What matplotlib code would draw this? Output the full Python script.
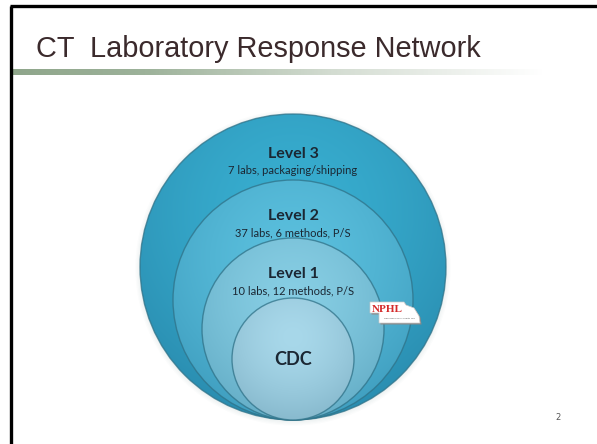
import numpy as np
import matplotlib.pyplot as plt
from matplotlib.patches import Circle, Polygon
from matplotlib.colors import to_rgb, LinearSegmentedColormap

title = 'CT  Laboratory Response Network'
levels = ['Level 3', 'Level 2', 'Level 1', 'CDC']
details = ['7 labs, packaging/shipping', '37 labs, 6 methods, P/S',
           '10 labs, 12 methods, P/S', '']
page_no = '2'

# layout of the nested circles (pixels), all touching at the bottom
cx, bottom = 293, 420
radii = [153, 120, 91, 61]
inner_col = ['#38aed0', '#5abfdd', '#86cde3', '#a8d8ea']
outer_col = ['#2a8db0', '#409fc0', '#66afc8', '#88bace']
label_y = [154, 216, 274, 359]
detail_y = [170, 233, 291, None]

W, H = 597, 444
fig = plt.figure(figsize=(W / 100, H / 100), dpi=100)
ax = fig.add_axes([0, 0, 1, 1])
ax.set_xlim(0, W)
ax.set_ylim(H, 0)
ax.axis('off')

# slide frame
ax.plot([11, 11], [6, H], color='black', lw=2.4, solid_capstyle='butt')
ax.plot([10, W], [6, 6], color='black', lw=2.4, solid_capstyle='butt')

# title and its fading rule
ax.text(36, 57, title, fontsize=20.8, family='Liberation Sans',
        color='#3b2a2c', va='baseline', ha='left')
bar_cmap = LinearSegmentedColormap.from_list(
    'bar', [(0, '#8fa68b'), (0.25, '#9db29a'), (0.6, '#d3dcd1'), (1, '#ffffff')])
ax.imshow(np.linspace(0, 1, 300)[None, :], cmap=bar_cmap, aspect='auto',
          extent=(12, 545, 75, 69), zorder=1)

# faint glow around the outer circle
for k in range(4):
    ax.add_patch(Circle((cx, bottom - radii[0] + 1), radii[0] + 1 + k * 1.2,
                        facecolor='#8fa0a8', edgecolor='none',
                        alpha=0.03, zorder=2))

n = 240
g = np.linspace(-1, 1, n)
X, Y = np.meshgrid(g, g)
for i, r in enumerate(radii):
    cy = bottom - r
    d = np.sqrt(X ** 2 + (Y + 0.35) ** 2)
    t = np.clip(d / 1.35, 0, 1)[..., None] ** 1.6
    img = (1 - t) * np.array(to_rgb(inner_col[i])) + t * np.array(to_rgb(outer_col[i]))
    im = ax.imshow(img, extent=(cx - r, cx + r, cy + r, cy - r),
                   zorder=3 + i * 2, interpolation='bilinear')
    clip = Circle((cx, cy), r, transform=ax.transData)
    im.set_clip_path(clip)
    ax.add_patch(Circle((cx, cy), r, facecolor='none', edgecolor='#2f7288',
                        lw=1.0, alpha=0.75, zorder=4 + i * 2))

# labels
for i, name in enumerate(levels):
    if name == 'CDC':
        ax.text(cx, label_y[i], name, fontsize=13, family='Lato',
                fontweight='bold', color='#1b2733', ha='center', va='center',
                zorder=20)
    else:
        ax.text(cx, label_y[i], name, fontsize=11.5, family='Lato',
                fontweight='bold', color='#1b2733', ha='center', va='center',
                zorder=20)
        ax.text(cx, detail_y[i], details[i], fontsize=8, family='Lato',
                color='#1b2733', ha='center', va='center', zorder=20)

# NPHL logo badge
shape = [(370, 302), (404, 302), (406, 305), (414, 308), (419, 316),
         (420, 323), (379, 323), (379, 313), (370, 313)]
ax.add_patch(Polygon([(x + 1.5, y + 1.5) for x, y in shape], closed=True,
                     facecolor='#8a8a8a', edgecolor='none', zorder=21))
ax.add_patch(Polygon(shape, closed=True, facecolor='white',
                     edgecolor='#c9c9c9', lw=0.5, zorder=22))
ax.text(387, 309, 'NPHL', fontsize=8, family='Liberation Serif',
        fontweight='bold', color='#d42a2a', ha='center', va='center', zorder=23)
ax.text(399, 318, 'Nebraska Public Health Lab', fontsize=1.6,
        family='DejaVu Sans', color='#555555', ha='center', va='center',
        zorder=23)

ax.text(558, 417, page_no, fontsize=6, family='DejaVu Sans', color='#555555',
        ha='center', va='center')

fig.savefig('out.png', dpi=100)
